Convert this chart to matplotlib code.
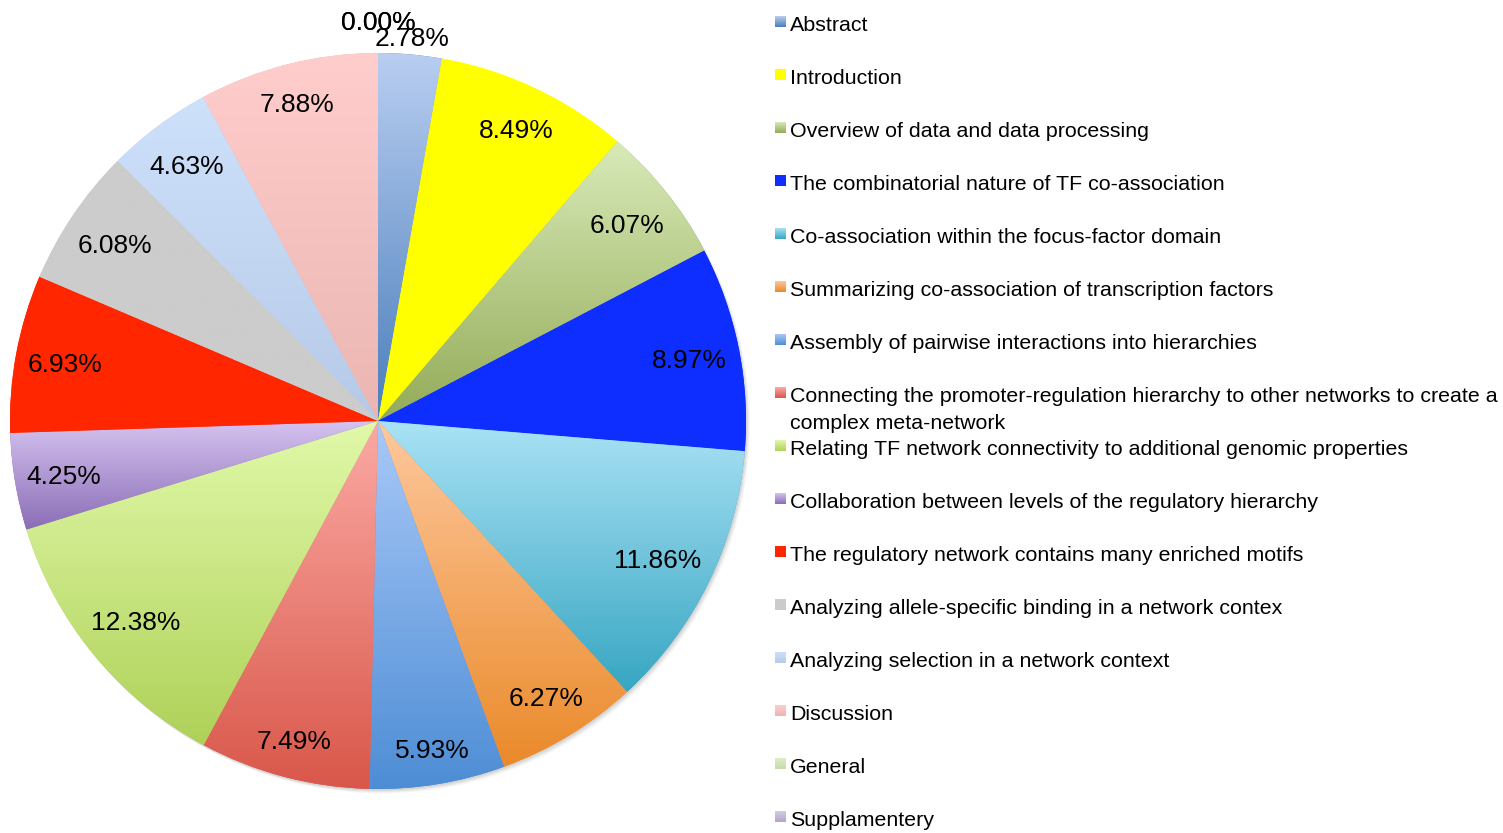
import numpy as np
import matplotlib
matplotlib.use("Agg")
import matplotlib.pyplot as plt
from matplotlib.colors import LinearSegmentedColormap
from matplotlib.patches import Circle

plt.rcParams['font.family'] = ['Liberation Sans', 'DejaVu Sans']

# ---------------- data ----------------
categories = [
    "Abstract",
    "Introduction",
    "Overview of data and data processing",
    "The combinatorial nature of TF co-association",
    "Co-association within the focus-factor domain",
    "Summarizing co-association of transcription factors",
    "Assembly of pairwise interactions into hierarchies",
    "Connecting the promoter-regulation hierarchy to other networks to create a\ncomplex meta-network",
    "Relating TF network connectivity to additional genomic properties",
    "Collaboration between levels of the regulatory hierarchy",
    "The regulatory network contains many enriched motifs",
    "Analyzing allele-specific binding in a network contex",
    "Analyzing selection in a network context",
    "Discussion",
    "General",
    "Supplamentery",
]
values = [2.78, 8.49, 6.07, 8.97, 11.86, 6.27, 5.93, 7.49, 12.38, 4.25,
          6.93, 6.08, 4.63, 7.88, 0.00, 0.00]
pct_labels = ["2.78%", "8.49%", "6.07%", "8.97%", "11.86%", "6.27%", "5.93%",
              "7.49%", "12.38%", "4.25%", "6.93%", "6.08%", "4.63%", "7.88%",
              "0.00%", "0.00%"]
# gradient colours (top, bottom) per slice
top_colors = ["#b9cef1", "#ffff00", "#d9eab8", "#0e2eff", "#aae2f5", "#fec89e",
              "#aac9f8", "#fbaaa4", "#e1f9aa", "#d5c3f0", "#ff2600", "#cccccc",
              "#cee1fb", "#ffcdcc", "#dcedc6", "#d4cbe4"]
bot_colors = ["#4a7ebb", "#ffff00", "#93ab58", "#0e2eff", "#37a6c2", "#ea8a2a",
              "#4d8dd5", "#d9574a", "#afd158", "#8b6db6", "#ff2600", "#cccccc",
              "#b6cae8", "#ebb6b2", "#c6dca6", "#b3a6c9"]

# ---------------- figure ----------------
W, H = 1503, 833
fig = plt.figure(figsize=(W / 100, H / 100), dpi=100)
ax = fig.add_axes([0, 0, 1, 1])

cx, cy, R = 378, H - 421, 368

# soft shadow
for k, a in enumerate([0.05, 0.05, 0.04, 0.03]):
    ax.add_patch(Circle((cx + 1 + k, cy - 1.5 - k), R, facecolor="black",
                        edgecolor="none", alpha=a, zorder=0))

wedges, _ = ax.pie(values, colors=bot_colors, startangle=90, counterclock=False,
                   center=(cx, cy), radius=R,
                   wedgeprops=dict(linewidth=0, edgecolor="none"))

grad = np.linspace(0, 1, 256)[:, None]
for w, tc, bc in zip(wedges, top_colors, bot_colors):
    t1, t2 = w.theta1, w.theta2
    if abs(t2 - t1) < 1e-6:
        continue
    ang = np.radians(np.linspace(t1, t2, 200))
    xs = np.append(cx + R * np.cos(ang), cx)
    ys = np.append(cy + R * np.sin(ang), cy)
    cmap = LinearSegmentedColormap.from_list("g", [tc, bc])
    im = ax.imshow(grad, cmap=cmap, extent=[xs.min(), xs.max(), ys.min(), ys.max()],
                   origin="upper", aspect="auto", interpolation="bilinear", zorder=2)
    im.set_clip_path(w)

# percentage labels (Excel-like "inside end", small ones outside)
fs_lab = 19
px = fs_lab * 100 / 72
cum = np.cumsum([0] + values)
total = sum(values)
for i, (v, lab) in enumerate(zip(values, pct_labels)):
    mid = (cum[i] + v / 2) / total * 2 * np.pi  # clockwise from top
    s, c = np.sin(mid), np.cos(mid)
    wtxt = (sum(ch.isdigit() for ch in lab) * 0.556 + 0.278 + 0.889) * px
    htxt = 0.72 * px
    if v == 0:
        r = 401
    elif v < 3:
        r = 386
    else:
        r = 352 - (abs(s) * wtxt * 0.42 + abs(c) * (htxt / 2 + 6))
    ax.text(cx + r * s, cy + r * c - 3, lab, fontsize=fs_lab, ha="center",
            va="center", color="black", zorder=5)

# legend
fs_leg = 15.4
for i, (name, tc, bc) in enumerate(zip(categories, top_colors, bot_colors)):
    base = 31 + 53 * i
    nl = name.count("\n")
    ax.text(790, H - (base + 27 * nl), name, fontsize=fs_leg, ha="left",
            va="baseline", linespacing=1.56, color="black", zorder=5)
    cmap = LinearSegmentedColormap.from_list("g", [tc, bc])
    ax.imshow(grad, cmap=cmap, extent=[775, 786, H - (base - 4), H - (base - 15)],
              origin="upper", aspect="auto", interpolation="bilinear", zorder=5)

ax.set_xlim(0, W)
ax.set_ylim(0, H)
ax.set_aspect("auto")
ax.axis("off")
fig.savefig("out.png", dpi=100, facecolor="white")
